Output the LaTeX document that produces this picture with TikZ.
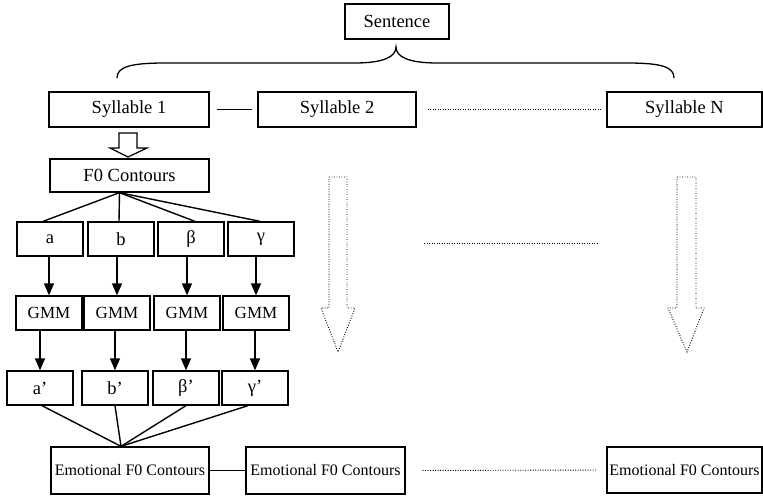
\documentclass[tikz,border=0pt]{standalone}
\usepackage{fontspec}
\setmainfont{Liberation Serif}
\usetikzlibrary{arrows.meta}
\begin{document}
\begin{tikzpicture}[x=1pt,y=-1pt,
  box/.style={draw,line width=1.3pt,inner sep=0pt,align=center},
  txtbig/.style={font=\fontsize{18.5}{20}\selectfont},
  txtmid/.style={font=\fontsize{17}{19}\selectfont},
  txtsmall/.style={font=\fontsize{16}{18}\selectfont},
  conn/.style={line width=1.4pt},
  arr/.style={line width=1.5pt,-{Triangle[length=12pt,width=10pt]}},
  dotline/.style={line width=0.9pt,dash pattern=on 0.9pt off 1.6pt},
  dotarrow/.style={line width=0.9pt,dash pattern=on 0.9pt off 1.6pt,line join=miter}
]
\useasboundingbox (0,0) rectangle (763,496);
% top
\node[box,txtbig,minimum width=104pt,minimum height=35pt] (sent) at (397,21.5) {Sentence};
\node[box,txtbig,minimum width=160pt,minimum height=35pt] (s1) at (129,109.5) {Syllable 1};
\node[box,txtbig,minimum width=158pt,minimum height=35pt] (s2) at (337,109.5) {Syllable 2};
\node[box,txtbig,minimum width=155pt,minimum height=35pt] (sn) at (684.5,109.5) {Syllable N};
% brace
\coordinate (bl) at (117,78);
\coordinate (br) at (674,78);
\coordinate (bt) at (396,47);
\draw[line width=1.3pt] (bl) .. controls (117,67) and (130,63) .. (165,63) -- (355,63)
  .. controls (383,63) and (396,57) .. (bt)
  .. controls (396,57) and (409,63) .. (437,63) -- (627,63)
  .. controls (662,63) and (674,67) .. (br);
\draw[conn,shorten <=7pt,shorten >=5pt] (s1.east) -- (s2.west);
\draw[dotline,shorten <=11pt,shorten >=4pt] (s2.east) -- (sn.west);
% hollow arrow
\draw[line width=1.2pt,line join=miter] (119,133) -- (137,133) -- (137,148) -- (147,148) -- (128,157) -- (110,148) -- (119,148) -- cycle;
\node[box,txtbig,minimum width=159pt,minimum height=33pt] (f0) at (129.5,175.5) {F0 Contours};
% parameter boxes
\foreach \n/\x/\t in {pa/50/a, pb/121/b, pc/191/β, pd/261/γ}
  \node[box,txtbig,minimum width=66pt,minimum height=34pt] (\n) at (\x,239) {\t};
\foreach \n/\x in {ga/49, gb/117, gc/187, gd/256}
  \node[box,txtmid,minimum width=66pt,minimum height=34pt] (\n) at (\x,313) {GMM};
\foreach \n/\x/\t in {qa/40/a’, qb/115/b’, qc/186/β’, qd/255/γ’}
  \node[box,txtbig,minimum width=66pt,minimum height=34pt] (\n) at (\x,388) {\t};
% fan from F0
\coordinate (f0s) at ([xshift=-10pt]f0.south);
\draw[conn] (f0s) -- ([xshift=-7pt]pa.north);
\draw[conn] (f0s) -- ([xshift=-2pt]pb.north);
\draw[conn] (f0s) -- ([xshift=4pt]pc.north);
\draw[conn] (f0s) -- ([xshift=-1pt]pd.north);
% arrows
\foreach \p/\g in {pa/ga, pb/gb, pc/gc, pd/gd}
  \draw[arr] (\p.south -| \g.north) -- (\g.north);
\foreach \g/\q in {ga/qa, gb/qb, gc/qc, gd/qd}
  \draw[arr] (\g.south -| \q.north) -- (\q.north);
% emotional
\node[box,txtsmall,minimum width=158pt,minimum height=47pt] (e1) at (130,470.5) {Emotional F0 Contours};
\node[box,txtsmall,minimum width=159pt,minimum height=47pt] (e2) at (325.5,470.5) {Emotional F0 Contours};
\node[box,txtsmall,minimum width=155pt,minimum height=46pt] (e3) at (684.5,470) {Emotional F0 Contours};
\coordinate (e1n) at ([xshift=-9pt]e1.north);
\draw[conn] ([xshift=2pt]qa.south) -- (e1n);
\draw[conn] (qb.south) -- (e1n);
\draw[conn] (qc.south) -- (e1n);
\draw[conn] ([xshift=-7pt]qd.south) -- (e1n);
\draw[conn] (e1.east) -- (e2.west);
\draw[dotline,shorten <=17pt,shorten >=10pt] (e2.east) -- (e3.west);
% dotted block arrows
\draw[dotarrow] (329,177) -- (347,177) -- (347,308) -- (355,308) -- (338,352) -- (321,308) -- (329,308) -- cycle;
\draw[dotarrow] (677,177) -- (696,177) -- (696,308) -- (704,308) -- (687,352) -- (668,308) -- (677,308) -- cycle;
\coordinate (ml) at (424,243);
\coordinate (mr) at (599,243);
\draw[dotline] (ml) -- (mr);
\end{tikzpicture}
\end{document}
